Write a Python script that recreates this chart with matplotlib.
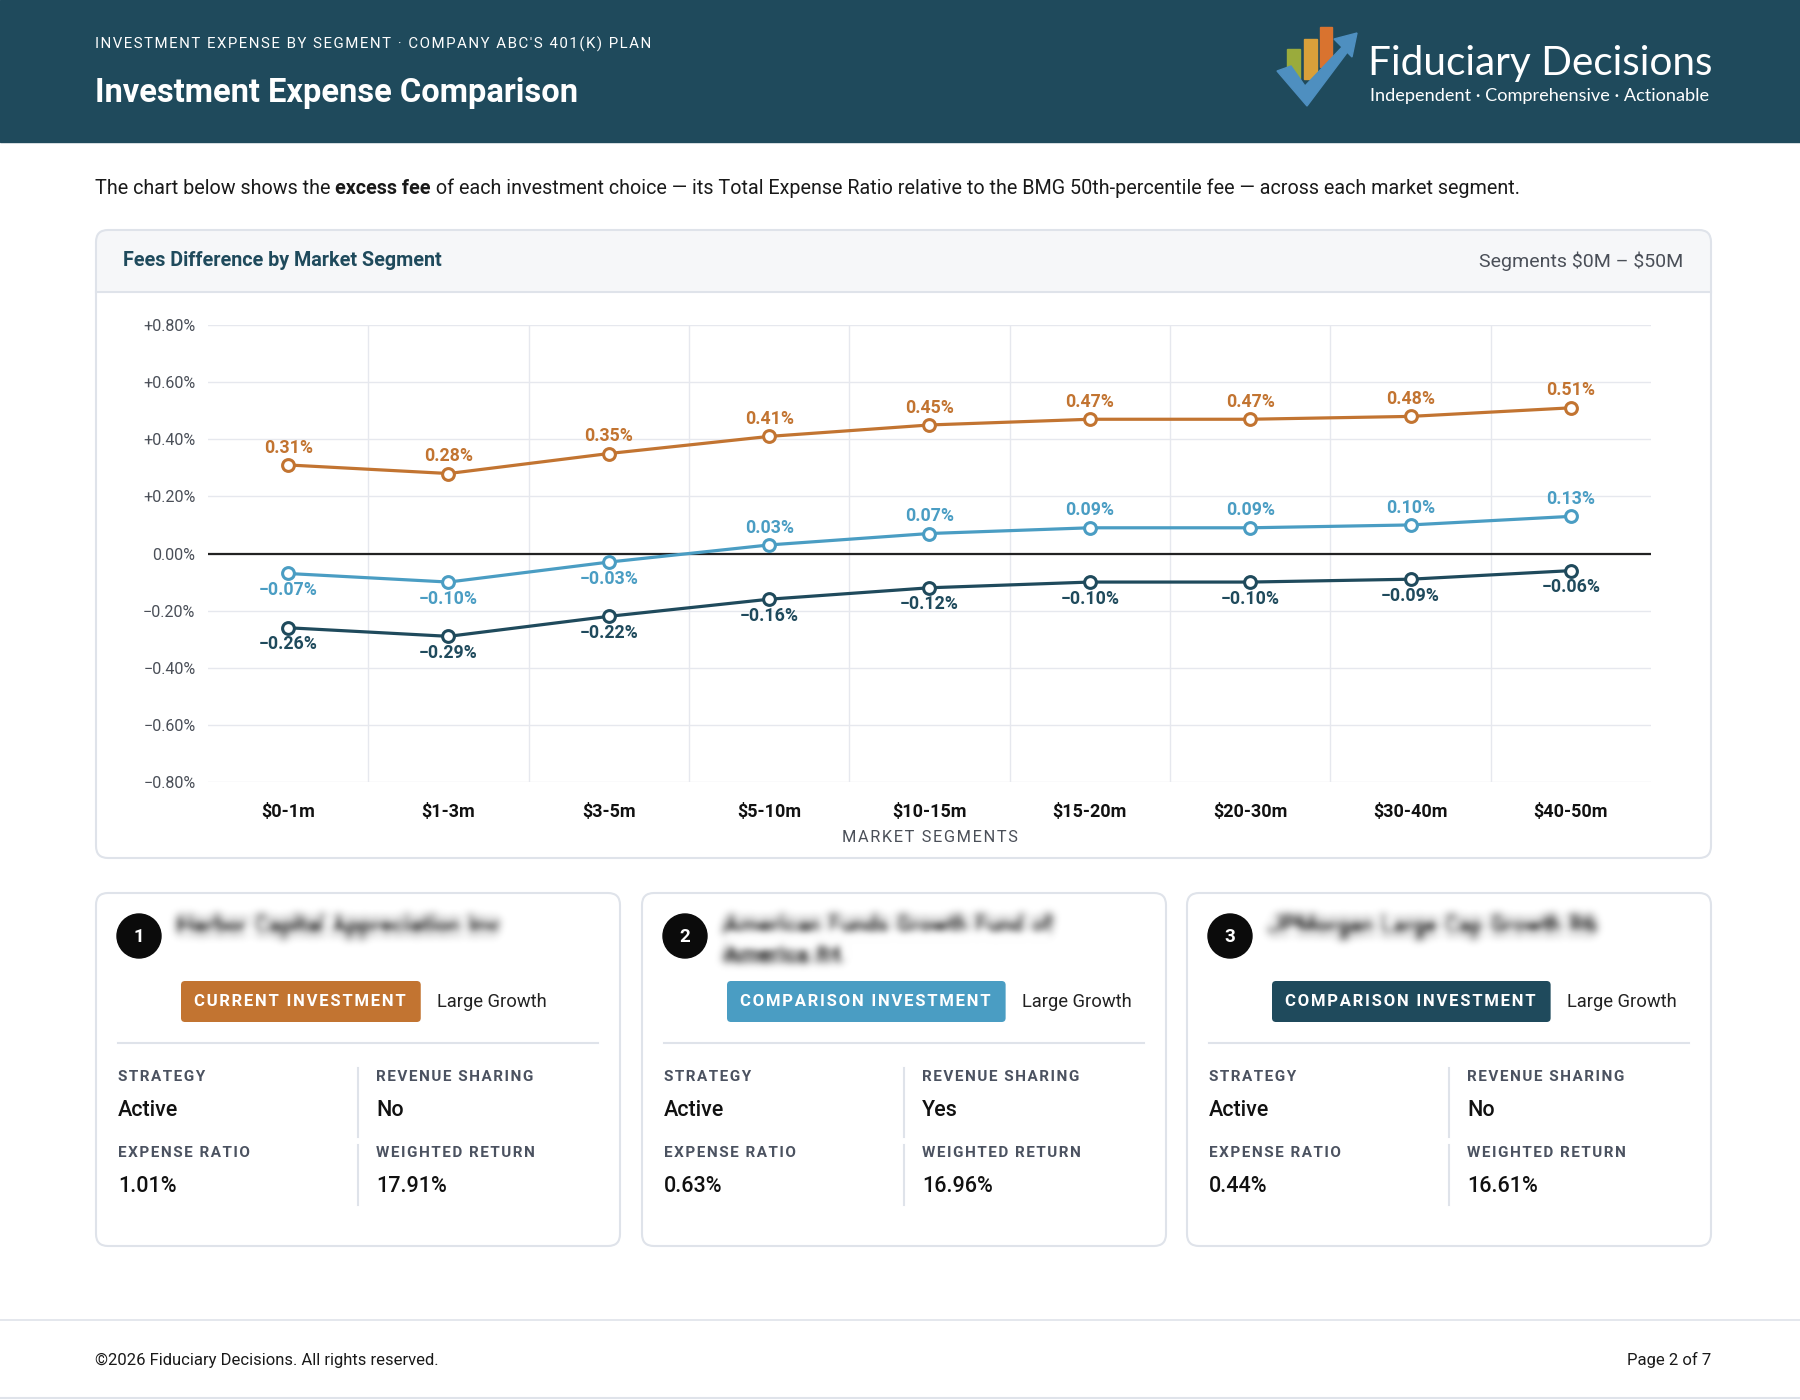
import numpy as np
import matplotlib
matplotlib.use("Agg")
import matplotlib.pyplot as plt
from matplotlib.patches import FancyBboxPatch, Rectangle, Polygon, Circle

plt.rcParams["font.family"] = ["Roboto", "DejaVu Sans"]

# -----------------------------
# Data
# -----------------------------
segments = ["$0-1m", "$1-3m", "$3-5m", "$5-10m", "$10-15m",
            "$15-20m", "$20-30m", "$30-40m", "$40-50m"]
current_fee = [0.31, 0.28, 0.35, 0.41, 0.45, 0.47, 0.47, 0.48, 0.51]
comparison1_fee = [-0.07, -0.10, -0.03, 0.03, 0.07, 0.09, 0.09, 0.10, 0.13]
comparison2_fee = [-0.26, -0.29, -0.22, -0.16, -0.12, -0.10, -0.10, -0.09, -0.06]
y_ticks = [-0.8, -0.6, -0.4, -0.2, 0.0, 0.2, 0.4, 0.6, 0.8]

fund_names = ["Harbor Capital Appreciation Inv",
              "American Funds Growth Fund of\nAmerica R4",
              "JPMorgan Large Cap Growth R6"]
fund_roles = ["CURRENT INVESTMENT", "COMPARISON INVESTMENT", "COMPARISON INVESTMENT"]
fund_category = ["Large Growth", "Large Growth", "Large Growth"]
strategies = ["Active", "Active", "Active"]
revenue_sharing = ["No", "Yes", "No"]
expense_ratios = ["1.01%", "0.63%", "0.44%"]
weighted_returns = ["17.91%", "16.96%", "16.61%"]

# -----------------------------
# Styles
# -----------------------------
NAVY = "#1f4a5c"
ORANGE = "#c27431"
BLUE = "#4a9dc3"
GRID = "#e6e8ee"
BORDER = "#dfe3ea"
LABEL_GRAY = "#4b5260"
series_colors = [ORANGE, BLUE, NAVY]


def spaced(s):
    # fake letter spacing with hair spaces
    return "\u200a".join(s)


def blur_filter(sigma, boost=1.0):
    def f(im, dpi):
        pad = int(3 * sigma)
        a = np.pad(im, ((pad, pad), (pad, pad), (0, 0)))
        k = np.exp(-0.5 * (np.arange(-pad, pad + 1) / sigma) ** 2)
        k /= k.sum()
        for axis in (0, 1):
            out = np.zeros_like(a)
            for i, w in enumerate(k):
                out += w * np.roll(a, i - pad, axis=axis)
            a = out
        a[..., 3] = np.clip(a[..., 3] * boost, 0, 1)
        return a, -pad, -pad
    return f


fig = plt.figure(figsize=(18, 14), dpi=100)
bg = fig.add_axes([0, 0, 1, 1], zorder=0)
bg.set_xlim(0, 1800)
bg.set_ylim(1400, 0)
bg.axis("off")
renderer = fig.canvas.get_renderer()

# -----------------------------
# Header
# -----------------------------
bg.add_patch(Rectangle((0, 0), 1800, 142, color=NAVY))
bg.text(95, 44, spaced("INVESTMENT EXPENSE BY SEGMENT · COMPANY ABC'S 401(K) PLAN"),
        color="white", fontsize=10.8, va="center", ha="left")
bg.text(95, 93, "Investment Expense Comparison", color="white",
        fontsize=23.5, fontweight="bold", va="center", ha="left")

# logo
bg.add_patch(Rectangle((1287, 49), 13, 30, color="#9aab3c"))
bg.add_patch(Rectangle((1304, 39), 13, 40, color="#d9a03a"))
bg.add_patch(Rectangle((1320, 27), 12, 40, color="#d9732f"))
bg.add_patch(Polygon([(1277, 71), (1291, 66), (1305, 86), (1344, 45),
                      (1349, 50), (1307, 106)], closed=True, color="#4e8fc0"))
bg.add_patch(Polygon([(1357, 33), (1334, 39), (1352, 57)], closed=True, color="#4e8fc0"))
bg.text(1368, 63, "Fiduciary Decisions", color="white", fontsize=29.2,
        family=["Lato", "DejaVu Sans"], va="center", ha="left")
bg.text(1370, 96, "Independent · Comprehensive · Actionable", color="white",
        fontsize=13.1, family=["Lato", "DejaVu Sans"], va="center", ha="left")

# intro text
intro = bg.text(95, 188, "The chart below shows the ", fontsize=14.2,
                va="center", ha="left", color="#1a1a1a")
parts = [("excess fee", "bold"),
         (" of each investment choice — its Total Expense Ratio relative to the "
          "BMG 50th-percentile fee — across each market segment.", "normal")]
xpos = 95 + intro.get_window_extent(renderer).width
for txt, wt in parts:
    t = bg.text(xpos, 188, txt, fontsize=14.2, fontweight=wt, va="center",
                ha="left", color="#1a1a1a")
    xpos += t.get_window_extent(renderer).width

# -----------------------------
# Chart card
# -----------------------------
cx0, cy0, cx1, cy1 = 96, 230, 1711, 858
bg.add_patch(FancyBboxPatch((cx0, cy0), cx1 - cx0, cy1 - cy0,
                            boxstyle="round,pad=0,rounding_size=12",
                            fc="white", ec="none"))
bg.add_patch(FancyBboxPatch((cx0, cy0), cx1 - cx0, 75,
                            boxstyle="round,pad=0,rounding_size=12",
                            fc="#f6f7f9", ec="none"))
bg.add_patch(Rectangle((cx0, 292), cx1 - cx0, 20, fc="white", ec="none"))
bg.plot([cx0, cx1], [292, 292], color=BORDER, lw=1.5)
bg.add_patch(FancyBboxPatch((cx0, cy0), cx1 - cx0, cy1 - cy0,
                            boxstyle="round,pad=0,rounding_size=12",
                            fc="none", ec=BORDER, lw=1.5))
bg.text(123, 261, "Fees Difference by Market Segment", color=NAVY,
        fontsize=14.2, fontweight="bold", va="center", ha="left")
bg.text(1683, 261, "Segments \\$0M – \\$50M", color="#4a4f58",
        fontsize=14, va="center", ha="right")

ax = fig.add_axes([208 / 1800, 1 - 782 / 1400, (1651 - 208) / 1800, (782 - 325) / 1400],
                  zorder=2)
ax.set_facecolor("none")
x = np.arange(len(segments))
ax.set_xlim(-0.5, len(segments) - 0.5)
ax.set_ylim(min(y_ticks), max(y_ticks))
for k in range(1, len(segments)):
    ax.axvline(k - 0.5, color=GRID, lw=1, zorder=0)
for t in y_ticks:
    ax.axhline(t, color=GRID, lw=1, zorder=0)
ax.axhline(0, color="#222222", lw=1.6, zorder=1)

for vals, col in zip([current_fee, comparison1_fee, comparison2_fee], series_colors):
    ax.plot(x, vals, color=col, lw=2.3, marker="o", ms=8.5, mfc="white",
            mec=col, mew=2.2, zorder=3)
    for xi, v in zip(x, vals):
        off = 12.5 if v > 0 else -12
        ax.annotate(f"{v:.2f}%".replace("-", "\u2212"), (xi, v),
                    xytext=(0, off), textcoords="offset points",
                    ha="center", va="center", color=col,
                    fontsize=12.8, fontweight="bold", zorder=4)


def fmt_tick(v):
    if abs(v) < 1e-9:
        return "0.00%"
    return ("+" if v > 0 else "\u2212") + f"{abs(v):.2f}%"


ax.set_yticks(y_ticks)
ax.set_yticklabels([fmt_tick(v) for v in y_ticks], color="#4a4f58", fontsize=11.6)
ax.set_xticks(x)
ax.set_xticklabels(segments, fontsize=13, fontweight="bold", color="#111111")
ax.tick_params(axis="both", length=0)
ax.tick_params(axis="y", pad=9)
ax.tick_params(axis="x", pad=15)
for s in ax.spines.values():
    s.set_visible(False)
bg.text((208 + 1651) / 2, 838, spaced("MARKET SEGMENTS"), fontsize=11.8,
        color="#4a4f58", ha="center", va="center")

# -----------------------------
# Fund cards
# -----------------------------
card_left = [96, 642, 1187]
card_w, ct0, ct1 = 524, 893, 1246
for i in range(len(fund_names)):
    L = card_left[i]
    col = series_colors[i]
    bg.add_patch(FancyBboxPatch((L, ct0), card_w, ct1 - ct0,
                                boxstyle="round,pad=0,rounding_size=12",
                                fc="white", ec=BORDER, lw=1.5))
    bg.add_patch(Circle((L + 43, ct0 + 43), 22, color="#0b0b0b"))
    bg.text(L + 43, ct0 + 44, str(i + 1), color="white", fontsize=13.5,
            fontweight="bold", ha="center", va="center")
    nm = bg.text(L + 82, ct0 + 22, fund_names[i], color="#1a1a1a", fontsize=16.3,
                 fontweight="bold", ha="left", va="top", linespacing=1.3)
    nm.set_agg_filter(blur_filter(4.5, boost=1.6))

    # badge
    bt = bg.text(L + 85 + 13, ct0 + 109, spaced(fund_roles[i]), color="white",
                 fontsize=12, fontweight="bold", ha="left", va="center", zorder=3)
    bw = bt.get_window_extent(renderer).width + 28
    bg.add_patch(FancyBboxPatch((L + 85, ct0 + 88), bw, 41,
                                boxstyle="round,pad=0,rounding_size=4",
                                fc=col, ec="none", zorder=2))
    bg.text(L + 85 + bw + 16, ct0 + 109, fund_category[i], color="#222222",
            fontsize=13.2, ha="left", va="center")

    bg.plot([L + 22, L + card_w - 22], [ct0 + 150, ct0 + 150], color=BORDER, lw=1.5)
    bg.plot([L + 262, L + 262], [ct0 + 175, ct0 + 244], color=BORDER, lw=1.5)
    bg.plot([L + 262, L + 262], [ct0 + 252, ct0 + 312], color=BORDER, lw=1.5)

    cells = [("STRATEGY", strategies[i], 22, 184),
             ("REVENUE SHARING", revenue_sharing[i], 280, 184),
             ("EXPENSE RATIO", expense_ratios[i], 22, 260),
             ("WEIGHTED RETURN", weighted_returns[i], 280, 260)]
    for lab, val, dx, dy in cells:
        bg.text(L + dx, ct0 + dy, spaced(lab), color=LABEL_GRAY, fontsize=11,
                fontweight="bold", ha="left", va="center")
        bg.text(L + dx, ct0 + dy + 33, val, color="#111111", fontsize=15.5,
                fontweight="medium", ha="left", va="center")

# -----------------------------
# Footer
# -----------------------------
bg.plot([0, 1800], [1320, 1320], color=BORDER, lw=1.2)
bg.plot([0, 1800], [1398, 1398], color=BORDER, lw=1.5)
bg.text(95, 1360, "©2026 Fiduciary Decisions. All rights reserved.", fontsize=12,
        color="#1a1a1a", ha="left", va="center")
bg.text(1711, 1360, "Page 2 of 7", fontsize=12, color="#1a1a1a",
        ha="right", va="center")

plt.savefig("out.png", dpi=100, facecolor="white")
